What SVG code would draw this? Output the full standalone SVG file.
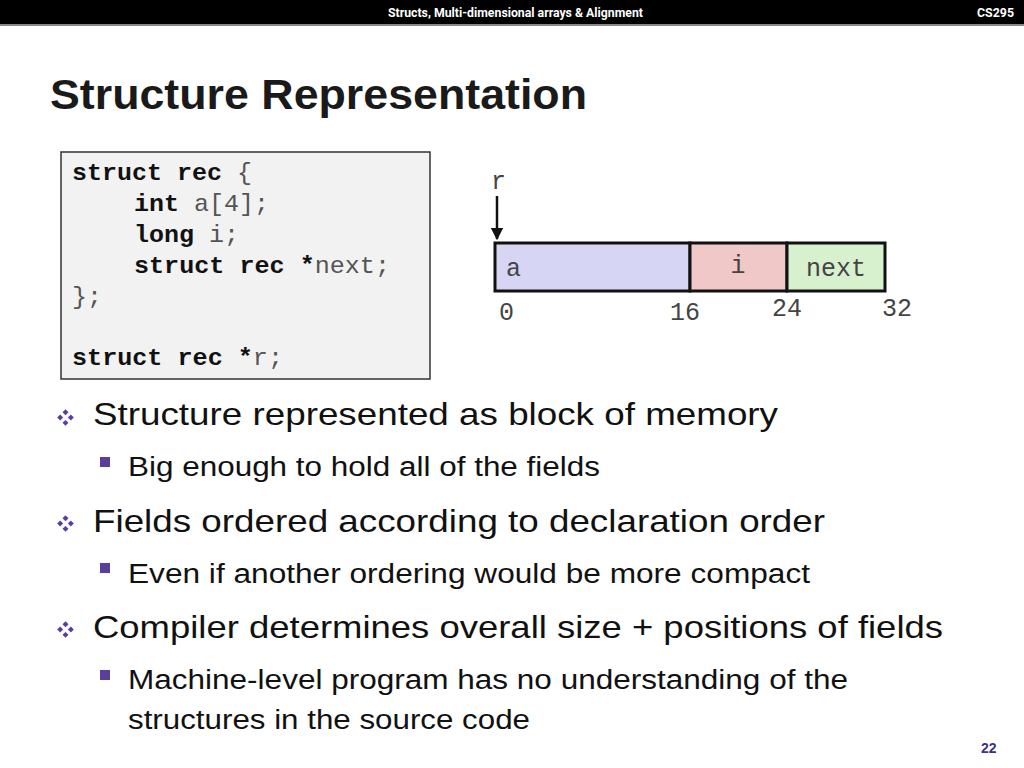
<svg xmlns="http://www.w3.org/2000/svg" width="1024" height="768" viewBox="0 0 1024 768">
<defs>
<style>
.hdr{font-family:Roboto,"Liberation Sans",sans-serif;font-weight:bold;font-size:13px;fill:#fff}
.title{font-family:"Liberation Sans","Open Sans",sans-serif;font-weight:bold;font-size:43px;fill:#1a1a1a}
.code{font-family:"Liberation Mono","Courier New",monospace;font-size:24px;fill:#555}
.kw{font-weight:bold;fill:#111}
.mem{font-family:"Liberation Mono","Courier New",monospace;font-size:25px;fill:#444}
.b1{font-family:"Liberation Sans","Open Sans",sans-serif;font-size:32px;fill:#111}
.b2{font-family:"Liberation Sans","Open Sans",sans-serif;font-size:27px;fill:#111}
.cell{stroke:#111;stroke-width:3}
.pg{font-family:"Liberation Sans",sans-serif;font-weight:bold;font-size:14px;fill:#3d2f8f}
</style>
<symbol id="dia" viewBox="0 0 16 16">
<polygon points="8,1 10.5,3.5 8,6 5.5,3.5" fill="#5a3e9c"/>
<polygon points="8,10 10.5,12.5 8,15 5.5,12.5" fill="#5a3e9c"/>
<polygon points="3.5,5.5 6,8 3.5,10.5 1,8" fill="#5a3e9c"/>
<polygon points="12.5,5.5 15,8 12.5,10.5 10,8" fill="#5a3e9c"/>
</symbol>
<marker id="arr" viewBox="0 0 10 10" refX="9" refY="5" markerWidth="5" markerHeight="5" orient="auto">
<path d="M0,0 L10,5 L0,10 z" fill="#111"/>
</marker>
</defs>
<rect x="0" y="0" width="1024" height="768" fill="#fff"/>
<g id="header">
<rect x="0" y="0" width="1024" height="25" fill="#000"/>
<rect x="0" y="24" width="1024" height="2" fill="#888"/>
<text class="hdr" x="388" y="17" textLength="255" lengthAdjust="spacingAndGlyphs">Structs, Multi-dimensional arrays &amp; Alignment</text>
<text class="hdr" x="977" y="17" textLength="37" lengthAdjust="spacingAndGlyphs">CS295</text>
</g>
<text class="title" x="50" y="109" textLength="537" lengthAdjust="spacingAndGlyphs">Structure Representation</text>
<g id="code">
<rect x="61" y="152" width="369" height="227" fill="#f2f2f2" stroke="#333" stroke-width="1.5"/>
<text class="code" x="72" y="180" textLength="180" lengthAdjust="spacingAndGlyphs"><tspan class="kw">struct rec</tspan> {</text>
<text class="code" x="134" y="211" textLength="135" lengthAdjust="spacingAndGlyphs"><tspan class="kw">int</tspan> a[4];</text>
<text class="code" x="134" y="242" textLength="105" lengthAdjust="spacingAndGlyphs"><tspan class="kw">long</tspan> i;</text>
<text class="code" x="134" y="273" textLength="256" lengthAdjust="spacingAndGlyphs"><tspan class="kw">struct rec *</tspan>next;</text>
<text class="code" x="72" y="304" textLength="30" lengthAdjust="spacingAndGlyphs">};</text>
<text class="code" x="72" y="365" textLength="211" lengthAdjust="spacingAndGlyphs"><tspan class="kw">struct rec *</tspan>r;</text>
</g>
<g id="pointer-r">
<text class="mem" x="491" y="189" font-size="27">r</text>
</g>
<g id="connectors">
<line x1="497" y1="196" x2="497" y2="239" stroke="#111" stroke-width="2.5" marker-end="url(#arr)"/>
</g>
<g id="field-a">
<rect class="cell" x="495" y="243" width="195" height="48" fill="#d6d6f4"/>
<text class="mem" x="506" y="276">a</text>
</g>
<g id="field-i">
<rect class="cell" x="690" y="243" width="97" height="48" fill="#f1c8c8"/>
<text class="mem" x="738" y="273" text-anchor="middle">i</text>
</g>
<g id="field-next">
<rect class="cell" x="787" y="243" width="98" height="48" fill="#d7f1cf"/>
<text class="mem" x="836" y="276" text-anchor="middle">next</text>
</g>
<g id="offsets">
<text class="mem" x="499" y="320">0</text>
<text class="mem" x="670" y="320">16</text>
<text class="mem" x="772" y="316">24</text>
<text class="mem" x="882" y="316">32</text>
</g>
<g id="bullets">
<use href="#dia" x="56" y="408" width="19" height="19"/>
<text class="b1" x="93" y="425" textLength="685" lengthAdjust="spacingAndGlyphs">Structure represented as block of memory</text>
<rect x="100" y="457" width="10" height="10" fill="#5a3e9c"/>
<text class="b2" x="128" y="476" textLength="472" lengthAdjust="spacingAndGlyphs">Big enough to hold all of the fields</text>
<use href="#dia" x="56" y="514" width="19" height="19"/>
<text class="b1" x="93" y="532" textLength="732" lengthAdjust="spacingAndGlyphs">Fields ordered according to declaration order</text>
<rect x="100" y="563" width="10" height="10" fill="#5a3e9c"/>
<text class="b2" x="128" y="583" textLength="682" lengthAdjust="spacingAndGlyphs">Even if another ordering would be more compact</text>
<use href="#dia" x="56" y="620" width="19" height="19"/>
<text class="b1" x="93" y="638" textLength="850" lengthAdjust="spacingAndGlyphs">Compiler determines overall size + positions of fields</text>
<rect x="100" y="670" width="10" height="10" fill="#5a3e9c"/>
<text class="b2" x="128" y="689" textLength="720" lengthAdjust="spacingAndGlyphs">Machine-level program has no understanding of the</text>
<text class="b2" x="128" y="729" textLength="402" lengthAdjust="spacingAndGlyphs">structures in the source code</text>
</g>
<text class="pg" x="981" y="753">22</text>
</svg>
